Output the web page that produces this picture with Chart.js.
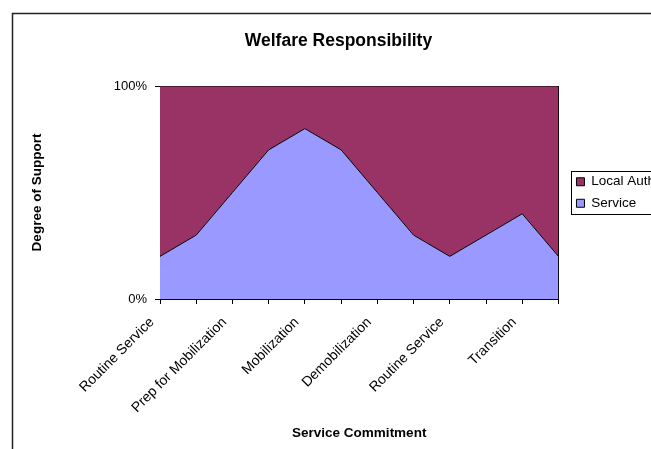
<!DOCTYPE html>
<html>
<head>
<meta charset="utf-8">
<script src="https://cdn.jsdelivr.net/npm/chart.js@4"></script>
<style>
  html, body { margin: 0; padding: 0; background: #fff; overflow: hidden; }
  #wrap { width: 651px; height: 449px; overflow: hidden; }
</style>
</head>
<body>
<div id="wrap">
  <canvas id="welfareChart" width="665" height="470"></canvas>
</div>
<script>
// Chart data
const categories = ['Routine Service', '', 'Prep for Mobilization', '', 'Mobilization', '',
    'Demobilization', '', 'Routine Service', '', 'Transition', ''];
const serviceValues = [20, 30, 50, 70, 80, 70, 50, 30, 20, 30, 40, 20];
const localAuthValues = [80, 70, 50, 30, 20, 30, 50, 70, 80, 70, 60, 80];
const yTicks = [0, 100];

const FONT = 'Arial, "Liberation Sans", sans-serif';

// Outer chart frame and the box round the legend
const framePlugin = {
    id: 'framePlugin',
    afterDraw(chart) {
        const ctx = chart.ctx;
        ctx.save();
        ctx.strokeStyle = '#000';
        ctx.lineWidth = 1;

        const boxes = chart.legend.legendHitBoxes;
        if (boxes && boxes.length) {
            let l = Infinity, t = Infinity, r = -Infinity, b = -Infinity;
            boxes.forEach(h => {
                l = Math.min(l, h.left); t = Math.min(t, h.top);
                r = Math.max(r, h.left + h.width); b = Math.max(b, h.top + h.height);
            });
            ctx.strokeRect(Math.round(l - 5) + 0.5, Math.round(t - 4) + 0.5,
                Math.round(r - l + 12), Math.round(b - t + 8));
        }

        ctx.strokeStyle = '#222';
        ctx.lineWidth = 1.5;
        ctx.strokeRect(12.5, 13.5, 652, 460);
        ctx.restore();
    }
};

const ctx = document.getElementById('welfareChart').getContext('2d');
const welfareChart = new Chart(ctx, {
    type: 'line',
    data: {
        labels: categories,
        datasets: [{
            label: 'Service',
            data: serviceValues,
            backgroundColor: '#9999FF',
            borderColor: '#000',
            borderWidth: 1,
            fill: 'origin',
            pointRadius: 0,
            tension: 0
        }, {
            label: 'Local Auth',
            data: localAuthValues,
            backgroundColor: '#993366',
            borderColor: '#000',
            borderWidth: 1,
            fill: '-1',
            pointRadius: 0,
            tension: 0
        }]
    },
    options: {
        responsive: false,
        animation: false,
        layout: {
            padding: { left: 12, right: 0, top: 0, bottom: 0 }
        },
        plugins: {
            title: {
                display: true,
                text: 'Welfare Responsibility',
                color: '#000',
                font: { family: FONT, size: 17.5, weight: 'bold' },
                padding: { top: 31, bottom: 34 }
            },
            legend: {
                position: 'right',
                fullSize: false,
                reverse: true,
                labels: {
                    color: '#000',
                    font: { family: FONT, size: 13.5 },
                    boxWidth: 8,
                    boxHeight: 8,
                    padding: 8,
                    generateLabels(chart) {
                        return chart.data.datasets.map((ds, i) => ({
                            text: ds.label,
                            fillStyle: ds.backgroundColor,
                            strokeStyle: '#000',
                            lineWidth: 1,
                            datasetIndex: i
                        }));
                    }
                }
            },
            tooltip: { enabled: false }
        },
        scales: {
            x: {
                grid: {
                    drawOnChartArea: false,
                    color: '#000',
                    tickLength: 5
                },
                border: { color: '#000' },
                ticks: {
                    autoSkip: false,
                    minRotation: 45,
                    maxRotation: 45,
                    padding: 10,
                    labelOffset: -8,
                    color: '#000',
                    font: { family: FONT, size: 14 }
                },
                title: {
                    display: true,
                    text: 'Service Commitment',
                    color: '#000',
                    font: { family: FONT, size: 13.5, weight: 'bold' },
                    padding: { top: 0, bottom: 29 }
                },
                afterFit(scale) {
                    scale.height = 171;
                }
            },
            y: {
                stacked: true,
                min: 0,
                max: 100,
                grid: {
                    drawOnChartArea: false,
                    color: '#000',
                    tickLength: 5
                },
                border: { color: '#000' },
                afterBuildTicks(scale) {
                    scale.ticks = yTicks.map(v => ({ value: v }));
                },
                ticks: {
                    color: '#000',
                    font: { family: FONT, size: 13 },
                    padding: 8,
                    callback: v => v + '%'
                },
                title: {
                    display: true,
                    text: 'Degree of Support',
                    color: '#000',
                    font: { family: FONT, size: 13.5, weight: 'bold' },
                    padding: { top: 17, bottom: 0 }
                },
                afterFit(scale) {
                    scale.width = 148;
                }
            },
            // right edge of the plot area, also keeps a gap before the legend
            yRight: {
                type: 'linear',
                position: 'right',
                grid: { display: false },
                border: { display: true, color: '#000' },
                ticks: { display: false },
                afterFit(scale) {
                    scale.width = 10;
                }
            }
        }
    },
    plugins: [framePlugin]
});
</script>
</body>
</html>
